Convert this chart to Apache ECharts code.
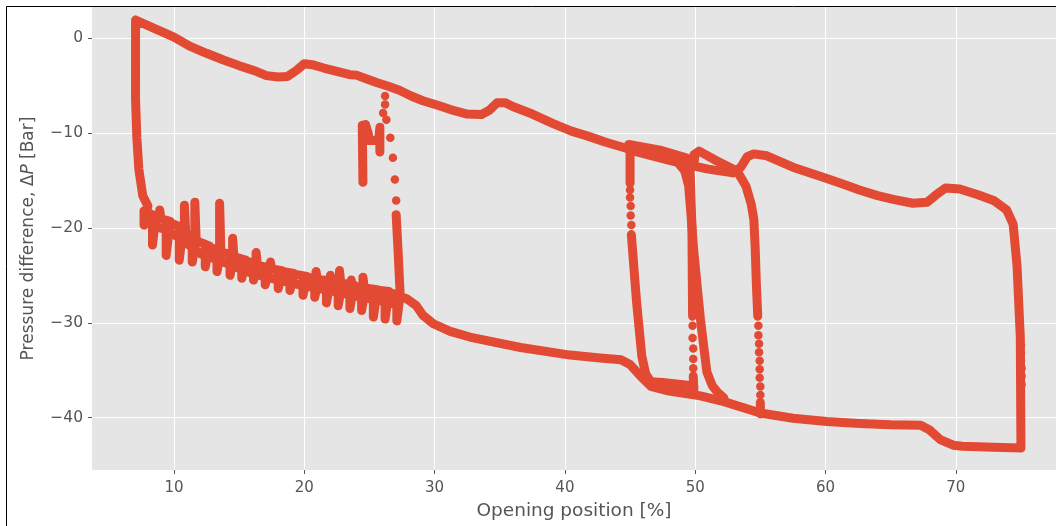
<!DOCTYPE html>
<html>
<head>
<meta charset="utf-8">
<title>Pressure difference vs opening position</title>
<script src="https://cdn.jsdelivr.net/npm/echarts@6/dist/echarts.min.js"></script>
<style>
  html, body { margin: 0; padding: 0; background: #ffffff; }
  #chart { width: 1056px; height: 526px; }
</style>
</head>
<body>
<div id="chart"></div>
<script>
// Tick positions
const xTicks = [10, 20, 30, 40, 50, 60, 70];
const yTicks = [-40, -30, -20, -10, 0];

// Upper branch of the loop, opening position [%] vs ΔP [Bar]
const upperBranch = [[7.05,1.9],[8.7,0.9],[10.0,0.1],[11.2,-0.85],[12.5,-1.6],[13.8,-2.3],[15.0,-2.9],[16.3,-3.5],[17.1,-3.95],[18.0,-4.1],[18.7,-4.05],[19.4,-3.4],[20.0,-2.7],[20.6,-2.8],[21.5,-3.15],[22.5,-3.5],[23.5,-3.85],[24.0,-3.9],[24.8,-4.3],[25.6,-4.7],[26.5,-5.1],[27.3,-5.5],[28.2,-6.1],[29.1,-6.6],[30.3,-7.1],[31.5,-7.65],[32.5,-8.0],[33.6,-8.05],[34.2,-7.6],[34.8,-6.8],[35.4,-6.8],[36.0,-7.2],[37.5,-8.0],[39.1,-9.0],[40.5,-9.8],[41.7,-10.3],[43.2,-11.0],[44.7,-11.6],[45.3,-11.9],[47.8,-12.8],[49.3,-13.3],[51.0,-13.8],[52.9,-14.2],[53.5,-13.6],[54.0,-12.5],[54.5,-12.2],[55.5,-12.4],[57.5,-13.6],[60.1,-14.8],[61.6,-15.5],[62.6,-16.0],[64.0,-16.6],[65.2,-17.0],[66.7,-17.4],[67.8,-17.3],[68.5,-16.5],[69.2,-15.8],[70.3,-15.9],[71.7,-16.5],[72.9,-17.1],[73.9,-18.1],[74.4,-19.6],[74.7,-24.0],[74.85,-28.5],[74.95,-31.5]];
const rightDropDots = [[75.0,-32.4],[75.0,-33.2],[75.0,-34.0],[75.05,-34.8],[75.05,-35.6],[75.05,-36.5]];
const rightFoot = [[75.0,-37.4],[75.0,-43.2]];

// Lower branch, right to left
const lowerBranch = [[75.0,-43.2],[72.9,-43.1],[70.5,-43.0],[69.8,-42.9],[68.8,-42.3],[68.0,-41.3],[67.3,-40.8],[65.0,-40.75],[62.6,-40.6],[60.1,-40.4],[57.5,-40.05],[55.0,-39.5],[52.2,-38.3],[50.4,-37.7],[48.0,-37.2],[46.6,-36.7],[45.8,-35.6],[45.0,-34.4],[44.3,-33.9],[42.7,-33.7],[40.4,-33.4],[36.6,-32.6],[32.7,-31.5],[31.2,-30.9],[29.9,-30.1],[29.1,-29.2],[28.6,-28.2],[27.9,-27.5]];

// Oscillating section: [position going out, position coming back, ΔP on the band, ΔP at the tip]
const combColumns = [[27.1,27.35,-27.1,-29.8],[26.2,26.5,-26.7,-29.6],[25.3,25.6,-26.5,-29.4],[24.5,24.6,-26.3,-25.2],[24.4,24.7,-26.3,-28.7],[23.6,23.7,-26.1,-25.5],[23.5,23.8,-26.0,-28.5],[22.7,22.8,-25.8,-24.5],[22.6,22.9,-25.8,-28.2],[22.0,22.1,-25.6,-25.0],[21.7,22.0,-25.6,-27.9],[20.9,21.0,-25.4,-24.6],[20.8,21.1,-25.4,-27.3],[19.9,20.2,-25.1,-27.1],[18.9,19.2,-24.8,-26.6],[18.0,18.3,-24.5,-26.4],[17.4,17.5,-24.3,-23.6],[17.0,17.3,-24.2,-26.0],[16.3,16.4,-23.9,-22.6],[16.1,16.4,-23.8,-25.5],[15.2,15.5,-23.4,-25.3],[14.5,14.6,-23.0,-21.1],[14.3,14.6,-22.9,-25.0],[13.5,13.6,-22.5,-17.4],[13.3,13.6,-22.4,-24.6],[12.4,12.7,-21.9,-24.1],[11.6,11.7,-21.3,-17.3],[11.4,11.7,-21.1,-23.6],[10.8,10.9,-20.5,-17.6],[10.4,10.7,-20.0,-23.4],[9.4,9.7,-19.3,-22.9],[8.9,9.0,-19.0,-18.1],[8.35,8.6,-18.8,-21.8],[7.7,7.9,-18.2,-19.7]];
// Lower edge of the solid part of the oscillating band
const combInner = [[27.1,-28.1],[26.0,-27.7],[24.0,-27.2],[22.0,-26.6],[20.0,-26.1],[18.0,-25.5],[16.0,-24.8],[14.0,-23.7],[12.0,-22.7],[10.5,-21.1],[9.2,-20.1],[8.4,-19.8]];
const leftRise = [[8.0,-17.7],[7.6,-16.6],[7.3,-13.8],[7.15,-10.5],[7.05,-6.5],[7.05,1.9]];

// Transitions between the branches
const upperBand45 = [[44.9,-11.2],[47.3,-11.8],[49.3,-12.6]];
const peak50 = [[49.9,-13.2],[50.0,-12.2],[50.3,-11.9],[51.6,-12.9],[52.9,-13.8]];
const drop45Top = [[45.0,-11.5],[45.0,-15.3]];
const drop45Dots = [[45.0,-16.0],[45.0,-16.8],[45.05,-17.7],[45.05,-18.7],[45.1,-19.7]];
const drop45Low = [[45.1,-20.7],[45.5,-27.8],[45.9,-33.5],[46.2,-35.4],[46.6,-36.2],[47.5,-36.3],[49.6,-36.6],[49.9,-36.8]];
const drop50Top = [[49.9,-12.3],[49.6,-13.5],[49.75,-20.0],[49.8,-29.3]];
const drop50Dots = [[49.8,-30.3],[49.8,-31.6],[49.85,-32.7],[49.85,-33.8],[49.85,-34.8]];
const drop50Low = [[49.85,-35.6],[49.9,-37.4]];
const curve50 = [[48.6,-13.0],[49.2,-14.0],[49.5,-15.6],[49.7,-19.0],[49.9,-22.6],[50.4,-29.6],[50.7,-33.0],[50.9,-35.2],[51.3,-36.6],[51.7,-37.3],[52.2,-37.9]];
const curve55 = [[53.3,-14.2],[53.9,-15.6],[54.3,-17.5],[54.5,-19.1],[54.6,-22.0],[54.7,-26.1],[54.8,-29.3]];
const drop55Dots = [[54.85,-30.3],[54.85,-31.3],[54.9,-32.2],[54.9,-33.1],[54.95,-34.0],[54.95,-34.9],[54.95,-35.8],[55.0,-36.7],[55.0,-37.6]];
const drop55Low = [[55.0,-38.4],[55.0,-39.6]];
const drop27Dots = [[26.2,-6.1],[26.2,-7.0],[26.05,-7.9],[26.3,-8.6],[26.6,-10.5],[26.8,-12.6],[26.95,-14.9],[27.05,-17.1]];
const drop27Low = [[27.05,-18.6],[27.2,-22.5],[27.35,-26.8]];
const spur25 = [[24.5,-15.2],[24.45,-9.2],[24.7,-9.1],[24.9,-10.0],[25.0,-10.8],[25.7,-10.8],[25.8,-9.4],[25.8,-12.0]];

const RED = '#E24A33';
const TEXT = '#555555';
const FONT = 'DejaVu Sans';

// Walk the oscillating section: along the band, out to each tip and back
const combPath = [];
combColumns.forEach(([xOut, xBack, band, tip]) => {
  combPath.push([xOut, band], [xOut, tip], [xBack, band]);
});

const mainLoop = [].concat(upperBranch, rightFoot.slice(1), lowerBranch.slice(1), combPath, leftRise);

function band(data) {
  return {
    type: 'line', data: data, showSymbol: false, silent: true,
    lineStyle: { color: RED, width: 9, cap: 'round', join: 'round' },
    z: 3
  };
}
function dots(data) {
  return {
    type: 'scatter', data: data, symbolSize: 8.5, silent: true,
    itemStyle: { color: RED, opacity: 1 }, z: 4
  };
}

const minusFmt = v => (v < 0 ? '\u2212' + Math.abs(v) : String(v));

const chart = echarts.init(document.getElementById('chart'), null, { renderer: 'canvas' });
chart.setOption({
  animation: false,
  backgroundColor: '#ffffff',
  grid: {
    left: 92, top: 7, right: 0, bottom: 54,
    show: true, backgroundColor: '#E5E5E5', borderWidth: 0
  },
  xAxis: {
    type: 'value', min: 3.707, max: 77.69,
    name: 'Opening position [%]', nameLocation: 'middle', nameGap: 32,
    nameTextStyle: { color: TEXT, fontSize: 18.5, fontFamily: FONT },
    axisLine: { show: false, onZero: false },
    axisTick: { show: true, customValues: xTicks, length: 4, lineStyle: { color: TEXT, width: 1 } },
    axisLabel: { customValues: xTicks, color: TEXT, fontSize: 15, fontFamily: FONT, margin: 11 },
    splitLine: { show: true, lineStyle: { color: '#ffffff', width: 1 } }
  },
  yAxis: {
    type: 'value', min: -45.51, max: 3.28,
    name: '{n|Pressure difference, Δ}{i|P}{n| [Bar]}', nameLocation: 'middle', nameGap: 55,
    nameTextStyle: {
      color: TEXT, fontSize: 17, fontFamily: FONT,
      rich: {
        n: { color: TEXT, fontSize: 17, fontFamily: FONT },
        i: { color: TEXT, fontSize: 17, fontFamily: FONT, fontStyle: 'italic' }
      }
    },
    axisLine: { show: false, onZero: false },
    axisTick: { show: true, customValues: yTicks, length: 4, lineStyle: { color: TEXT, width: 1 } },
    axisLabel: { customValues: yTicks, color: TEXT, fontSize: 15.5, fontFamily: FONT, margin: 9, formatter: minusFmt },
    splitLine: { show: true, lineStyle: { color: '#ffffff', width: 1 } }
  },
  graphic: [
    { type: 'line', shape: { x1: 6.5, y1: 6.5, x2: 1056, y2: 6.5 }, style: { stroke: '#000', lineWidth: 1 }, z: 100 },
    { type: 'line', shape: { x1: 6.5, y1: 6.5, x2: 6.5, y2: 526 }, style: { stroke: '#000', lineWidth: 1 }, z: 100 }
  ],
  series: [
    band(mainLoop),
    band(combInner),
    band(upperBand45),
    band(peak50),
    band(drop45Top), dots(drop45Dots), band(drop45Low),
    band(drop50Top), dots(drop50Dots), band(drop50Low),
    band(curve50),
    band(curve55), dots(drop55Dots), band(drop55Low),
    dots(drop27Dots), band(drop27Low),
    band(spur25),
    dots(rightDropDots)
  ]
});
</script>
</body>
</html>
